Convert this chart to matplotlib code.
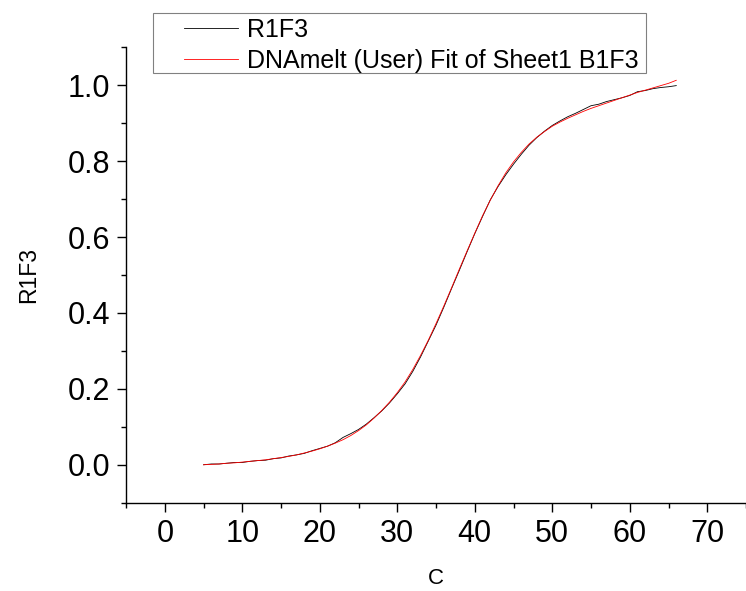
import matplotlib
matplotlib.use("Agg")
import matplotlib.pyplot as plt
from matplotlib.patches import Rectangle
from matplotlib.ticker import MultipleLocator

plt.rcParams['font.family'] = ['Liberation Sans', 'DejaVu Sans']

# measured melt curve (black) and fitted curve (red)
c_data = [5, 6, 7, 8, 9, 10, 11, 12, 13, 14, 15, 16, 17, 18, 19, 20,
          21, 22, 23, 24, 25, 26, 27, 28, 29, 30, 31, 32, 33, 34, 35, 36,
          37, 38, 39, 40, 41, 42, 43, 44, 45, 46, 47, 48, 49, 50, 51, 52,
          53, 54, 55, 56, 57, 58, 59, 60, 61, 62, 63, 64, 65, 66]
r1f3 = [0.000, 0.002, 0.002, 0.004, 0.006, 0.006, 0.009, 0.011, 0.012, 0.016,
        0.018, 0.023, 0.026, 0.030, 0.037, 0.043, 0.049, 0.058, 0.072, 0.082,
        0.093, 0.107, 0.124, 0.142, 0.163, 0.187, 0.213, 0.246, 0.284, 0.326,
        0.368, 0.415, 0.464, 0.512, 0.561, 0.609, 0.654, 0.698, 0.733, 0.764,
        0.792, 0.818, 0.842, 0.862, 0.879, 0.894, 0.906, 0.917, 0.926, 0.936,
        0.946, 0.950, 0.957, 0.962, 0.967, 0.973, 0.983, 0.986, 0.991, 0.994,
        0.996, 0.999]
fit = [0.000, 0.001, 0.002, 0.004, 0.005, 0.007, 0.009, 0.011, 0.013, 0.016,
       0.019, 0.022, 0.026, 0.031, 0.036, 0.042, 0.049, 0.057, 0.066, 0.077,
       0.090, 0.105, 0.123, 0.143, 0.165, 0.190, 0.218, 0.251, 0.288, 0.328,
       0.372, 0.418, 0.466, 0.515, 0.563, 0.610, 0.656, 0.697, 0.735, 0.769,
       0.798, 0.823, 0.845, 0.863, 0.878, 0.892, 0.903, 0.913, 0.922, 0.931,
       0.939, 0.946, 0.953, 0.960, 0.967, 0.974, 0.981, 0.987, 0.993, 0.999,
       1.005, 1.013]

fig = plt.figure(figsize=(7.46, 5.91), dpi=100)
ax = fig.add_axes([0.169, 0.1494, 0.831, 0.7706])

ax.plot(c_data, r1f3, color='black', lw=0.6, label='R1F3')
ax.plot(c_data, fit, color='red', lw=0.6, label='DNAmelt (User) Fit of Sheet1 B1F3')

ax.set_xlim(-5, 75)
ax.set_ylim(-0.1, 1.1)
ax.xaxis.set_major_locator(MultipleLocator(10))
ax.xaxis.set_minor_locator(MultipleLocator(5))
ax.yaxis.set_major_locator(MultipleLocator(0.2))
ax.yaxis.set_minor_locator(MultipleLocator(0.1))
ax.yaxis.set_major_formatter(plt.FormatStrFormatter('%.1f'))

ax.spines['top'].set_visible(False)
ax.spines['right'].set_visible(False)
for s in ['left', 'bottom']:
    ax.spines[s].set_linewidth(1.0)
ax.tick_params(which='major', direction='out', length=6.5, width=1.0,
               labelsize=22, pad=5)
ax.tick_params(which='minor', direction='out', length=3.6, width=1.0)

ax.set_xlabel('C', fontsize=16, labelpad=14)
ax.set_ylabel('R1F3', fontsize=16.5, labelpad=20)

leg = fig.legend(loc='upper left', bbox_to_anchor=(184 / 746, 1 - 18 / 591),
                 frameon=False, fontsize=18, borderpad=0, borderaxespad=0,
                 handlelength=2.15, handletextpad=0.36, labelspacing=0.28)
fig.add_artist(Rectangle((153 / 746, 1 - 72.7 / 591), (646 - 153) / 746, 60 / 591,
                         transform=fig.transFigure, fill=False,
                         edgecolor='#808080', lw=0.8))

fig.savefig('out.png', dpi=100)
